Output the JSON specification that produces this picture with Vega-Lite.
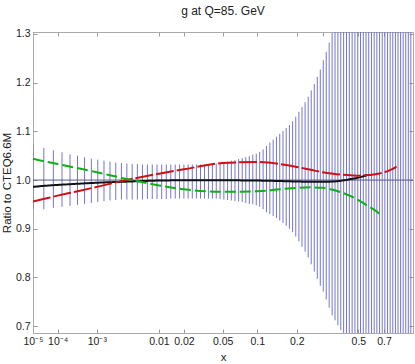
{
  "$schema": "https://vega.github.io/schema/vega-lite/v6.json",
  "width": 380,
  "height": 301,
  "autosize": "none",
  "padding": {"left": 33, "top": 32, "right": 2, "bottom": 31},
  "title": {"text": "g at Q=85. GeV", "font": "Liberation Sans", "fontSize": 12, "fontWeight": "normal", "color": "#222", "offset": 11},
  "config": {
    "view": {"stroke": "#aaaaaa"},
    "axis": {"labelFont": "Liberation Sans", "labelFontSize": 10.5, "labelColor": "#222", "titleFont": "Liberation Sans", "titleFontSize": 11.5, "titleFontWeight": "normal", "titleColor": "#222", "domainColor": "#aaaaaa", "tickColor": "#999999", "grid": false}
  },
  "datasets": {
    "band": [
      {"x": 0.00001, "lo": 0.940, "hi": 1.073},
      {"x": 0.0000313, "lo": 0.940, "hi": 1.066},
      {"x": 0.0000715, "lo": 0.943, "hi": 1.061},
      {"x": 0.0001366, "lo": 0.945, "hi": 1.057},
      {"x": 0.0002326, "lo": 0.947, "hi": 1.053},
      {"x": 0.0003655, "lo": 0.949, "hi": 1.050},
      {"x": 0.000541, "lo": 0.951, "hi": 1.047},
      {"x": 0.000766, "lo": 0.953, "hi": 1.044},
      {"x": 0.001046, "lo": 0.955, "hi": 1.042},
      {"x": 0.001386, "lo": 0.957, "hi": 1.040},
      {"x": 0.001794, "lo": 0.958, "hi": 1.038},
      {"x": 0.002274, "lo": 0.959, "hi": 1.036},
      {"x": 0.002833, "lo": 0.960, "hi": 1.035},
      {"x": 0.003477, "lo": 0.960, "hi": 1.034},
      {"x": 0.004212, "lo": 0.960, "hi": 1.033},
      {"x": 0.005044, "lo": 0.960, "hi": 1.033},
      {"x": 0.005979, "lo": 0.960, "hi": 1.032},
      {"x": 0.007023, "lo": 0.961, "hi": 1.032},
      {"x": 0.008181, "lo": 0.961, "hi": 1.032},
      {"x": 0.009461, "lo": 0.961, "hi": 1.032},
      {"x": 0.010867, "lo": 0.961, "hi": 1.032},
      {"x": 0.012407, "lo": 0.961, "hi": 1.032},
      {"x": 0.014085, "lo": 0.962, "hi": 1.032},
      {"x": 0.015908, "lo": 0.962, "hi": 1.032},
      {"x": 0.017882, "lo": 0.962, "hi": 1.032},
      {"x": 0.020013, "lo": 0.962, "hi": 1.032},
      {"x": 0.022307, "lo": 0.962, "hi": 1.032},
      {"x": 0.02477, "lo": 0.962, "hi": 1.032},
      {"x": 0.027407, "lo": 0.962, "hi": 1.032},
      {"x": 0.030226, "lo": 0.962, "hi": 1.032},
      {"x": 0.033231, "lo": 0.962, "hi": 1.032},
      {"x": 0.03643, "lo": 0.962, "hi": 1.033},
      {"x": 0.039827, "lo": 0.962, "hi": 1.033},
      {"x": 0.043429, "lo": 0.962, "hi": 1.034},
      {"x": 0.047242, "lo": 0.961, "hi": 1.035},
      {"x": 0.051272, "lo": 0.960, "hi": 1.037},
      {"x": 0.055525, "lo": 0.959, "hi": 1.038},
      {"x": 0.060007, "lo": 0.958, "hi": 1.040},
      {"x": 0.064723, "lo": 0.957, "hi": 1.041},
      {"x": 0.069681, "lo": 0.956, "hi": 1.043},
      {"x": 0.074885, "lo": 0.955, "hi": 1.045},
      {"x": 0.080342, "lo": 0.953, "hi": 1.047},
      {"x": 0.086058, "lo": 0.951, "hi": 1.049},
      {"x": 0.092039, "lo": 0.950, "hi": 1.052},
      {"x": 0.098291, "lo": 0.948, "hi": 1.054},
      {"x": 0.10482, "lo": 0.945, "hi": 1.058},
      {"x": 0.11163, "lo": 0.940, "hi": 1.063},
      {"x": 0.11874, "lo": 0.934, "hi": 1.070},
      {"x": 0.12613, "lo": 0.930, "hi": 1.077},
      {"x": 0.13383, "lo": 0.926, "hi": 1.083},
      {"x": 0.14183, "lo": 0.922, "hi": 1.089},
      {"x": 0.15014, "lo": 0.917, "hi": 1.095},
      {"x": 0.15878, "lo": 0.912, "hi": 1.101},
      {"x": 0.16774, "lo": 0.906, "hi": 1.107},
      {"x": 0.17703, "lo": 0.900, "hi": 1.113},
      {"x": 0.18666, "lo": 0.893, "hi": 1.121},
      {"x": 0.19663, "lo": 0.884, "hi": 1.130},
      {"x": 0.20696, "lo": 0.874, "hi": 1.140},
      {"x": 0.21763, "lo": 0.863, "hi": 1.150},
      {"x": 0.22867, "lo": 0.853, "hi": 1.160},
      {"x": 0.24007, "lo": 0.841, "hi": 1.171},
      {"x": 0.25184, "lo": 0.827, "hi": 1.184},
      {"x": 0.26399, "lo": 0.812, "hi": 1.197},
      {"x": 0.27653, "lo": 0.797, "hi": 1.212},
      {"x": 0.28947, "lo": 0.783, "hi": 1.227},
      {"x": 0.3028, "lo": 0.771, "hi": 1.246},
      {"x": 0.31653, "lo": 0.755, "hi": 1.263},
      {"x": 0.33067, "lo": 0.738, "hi": 1.282},
      {"x": 0.34522, "lo": 0.722, "hi": 1.302},
      {"x": 0.36019, "lo": 0.712, "hi": 1.325},
      {"x": 0.37559, "lo": 0.702, "hi": 1.35},
      {"x": 0.39142, "lo": 0.692, "hi": 1.38},
      {"x": 0.40768, "lo": 0.683, "hi": 1.41},
      {"x": 0.42441, "lo": 0.67, "hi": 1.44},
      {"x": 0.44157, "lo": 0.655, "hi": 1.47},
      {"x": 0.45921, "lo": 0.64, "hi": 1.50},
      {"x": 0.47729, "lo": 0.62, "hi": 1.53},
      {"x": 0.49585, "lo": 0.60, "hi": 1.56},
      {"x": 0.51489, "lo": 0.58, "hi": 1.60},
      {"x": 0.5344, "lo": 0.56, "hi": 1.64},
      {"x": 0.5544, "lo": 0.54, "hi": 1.68},
      {"x": 0.57489, "lo": 0.52, "hi": 1.72},
      {"x": 0.59589, "lo": 0.50, "hi": 1.76},
      {"x": 0.61738, "lo": 0.48, "hi": 1.80},
      {"x": 0.63939, "lo": 0.46, "hi": 1.85},
      {"x": 0.66191, "lo": 0.44, "hi": 1.90},
      {"x": 0.68497, "lo": 0.42, "hi": 1.95},
      {"x": 0.70853, "lo": 0.40, "hi": 2.0},
      {"x": 0.73266, "lo": 0.38, "hi": 2.05},
      {"x": 0.75731, "lo": 0.36, "hi": 2.1},
      {"x": 0.7825, "lo": 0.34, "hi": 2.15},
      {"x": 0.80825, "lo": 0.32, "hi": 2.2},
      {"x": 0.83455, "lo": 0.30, "hi": 2.25},
      {"x": 0.86145, "lo": 0.28, "hi": 2.3},
      {"x": 0.88889, "lo": 0.26, "hi": 2.35},
      {"x": 0.91693, "lo": 0.24, "hi": 2.4},
      {"x": 0.94555, "lo": 0.22, "hi": 2.45},
      {"x": 0.97473, "lo": 0.20, "hi": 2.5}
    ],
    "ref": [{"ratio": 1.0}],
    "curves": [
      {"curve": "black", "x": 0.00001, "ratio": 0.986},
      {"curve": "black", "x": 0.00003, "ratio": 0.988},
      {"curve": "black", "x": 0.0001, "ratio": 0.990},
      {"curve": "black", "x": 0.0003, "ratio": 0.992},
      {"curve": "black", "x": 0.001, "ratio": 0.9945},
      {"curve": "black", "x": 0.003, "ratio": 0.9965},
      {"curve": "black", "x": 0.01, "ratio": 0.999},
      {"curve": "black", "x": 0.02, "ratio": 0.9995},
      {"curve": "black", "x": 0.05, "ratio": 0.9995},
      {"curve": "black", "x": 0.1, "ratio": 0.999},
      {"curve": "black", "x": 0.15, "ratio": 0.998},
      {"curve": "black", "x": 0.2, "ratio": 0.997},
      {"curve": "black", "x": 0.25, "ratio": 0.9965},
      {"curve": "black", "x": 0.3, "ratio": 0.9965},
      {"curve": "black", "x": 0.35, "ratio": 0.997},
      {"curve": "black", "x": 0.4, "ratio": 0.999},
      {"curve": "black", "x": 0.45, "ratio": 1.002},
      {"curve": "black", "x": 0.5, "ratio": 1.005},
      {"curve": "black", "x": 0.56, "ratio": 1.010},
      {"curve": "red", "x": 0.00001, "ratio": 0.956},
      {"curve": "red", "x": 0.00003, "ratio": 0.961},
      {"curve": "red", "x": 0.0001, "ratio": 0.968},
      {"curve": "red", "x": 0.0003, "ratio": 0.9755},
      {"curve": "red", "x": 0.001, "ratio": 0.986},
      {"curve": "red", "x": 0.003, "ratio": 0.9985},
      {"curve": "red", "x": 0.01, "ratio": 1.013},
      {"curve": "red", "x": 0.02, "ratio": 1.022},
      {"curve": "red", "x": 0.05, "ratio": 1.035},
      {"curve": "red", "x": 0.1, "ratio": 1.037},
      {"curve": "red", "x": 0.15, "ratio": 1.033},
      {"curve": "red", "x": 0.2, "ratio": 1.027},
      {"curve": "red", "x": 0.25, "ratio": 1.021},
      {"curve": "red", "x": 0.3, "ratio": 1.016},
      {"curve": "red", "x": 0.35, "ratio": 1.013},
      {"curve": "red", "x": 0.4, "ratio": 1.011},
      {"curve": "red", "x": 0.45, "ratio": 1.010},
      {"curve": "red", "x": 0.5, "ratio": 1.009},
      {"curve": "red", "x": 0.55, "ratio": 1.010},
      {"curve": "red", "x": 0.6, "ratio": 1.011},
      {"curve": "red", "x": 0.65, "ratio": 1.013},
      {"curve": "red", "x": 0.7, "ratio": 1.016},
      {"curve": "red", "x": 0.75, "ratio": 1.020},
      {"curve": "red", "x": 0.8, "ratio": 1.025},
      {"curve": "red", "x": 0.82, "ratio": 1.028},
      {"curve": "green", "x": 0.00001, "ratio": 1.044},
      {"curve": "green", "x": 0.00003, "ratio": 1.039},
      {"curve": "green", "x": 0.0001, "ratio": 1.033},
      {"curve": "green", "x": 0.0003, "ratio": 1.026},
      {"curve": "green", "x": 0.001, "ratio": 1.016},
      {"curve": "green", "x": 0.003, "ratio": 1.004},
      {"curve": "green", "x": 0.01, "ratio": 0.989},
      {"curve": "green", "x": 0.02, "ratio": 0.981},
      {"curve": "green", "x": 0.05, "ratio": 0.976},
      {"curve": "green", "x": 0.1, "ratio": 0.977},
      {"curve": "green", "x": 0.15, "ratio": 0.981},
      {"curve": "green", "x": 0.2, "ratio": 0.984},
      {"curve": "green", "x": 0.25, "ratio": 0.985},
      {"curve": "green", "x": 0.3, "ratio": 0.984},
      {"curve": "green", "x": 0.35, "ratio": 0.980},
      {"curve": "green", "x": 0.4, "ratio": 0.974},
      {"curve": "green", "x": 0.45, "ratio": 0.967},
      {"curve": "green", "x": 0.5, "ratio": 0.959},
      {"curve": "green", "x": 0.55, "ratio": 0.950},
      {"curve": "green", "x": 0.6, "ratio": 0.942},
      {"curve": "green", "x": 0.65, "ratio": 0.933},
      {"curve": "green", "x": 0.68, "ratio": 0.926}
    ]
  },
  "resolve": {"axis": {"x": "independent", "y": "independent"}},
  "layer": [
    {
      "data": {"name": "band"},
      "mark": {"type": "rule", "clip": true, "color": "#7575d0", "strokeWidth": 1},
      "encoding": {
        "x": {"field": "x", "type": "quantitative",
              "scale": {"type": "pow", "exponent": 0.2, "domain": [0.00001, 1], "nice": false, "zero": false},
              "axis": {"orient": "bottom", "title": "x", "values": [0.00001, 0.0001, 0.001, 0.01, 0.02, 0.05, 0.1, 0.2, 0.5, 0.7],
                       "labelExpr": "datum.value < 0.00005 ? '10⁻⁵' : datum.value < 0.0005 ? '10⁻⁴' : datum.value < 0.005 ? '10⁻³' : format(datum.value, '~g')",
                       "labelFlush": false, "labelOverlap": false, "tickSize": -4, "labelPadding": 7, "titlePadding": 5}},
        "y": {"field": "lo", "type": "quantitative",
              "scale": {"domain": [0.686, 1.304], "nice": false, "zero": false},
              "axis": {"orient": "left", "title": "Ratio to CTEQ6.6M", "values": [0.7, 0.8, 0.9, 1.0, 1.1, 1.2, 1.3], "format": ".1f",
                       "labelFlush": false, "labelOverlap": false, "tickSize": -4, "labelPadding": 7, "titlePadding": 3}},
        "y2": {"field": "hi"}
      }
    },
    {
      "data": {"name": "ref"},
      "mark": {"type": "rule", "color": "#5a5a88", "strokeWidth": 1},
      "encoding": {
        "y": {"field": "ratio", "type": "quantitative", "axis": null}
      }
    },
    {
      "data": {"name": "curves"},
      "mark": {"type": "line", "strokeWidth": 2, "interpolate": "monotone", "clip": true},
      "encoding": {
        "x": {"field": "x", "type": "quantitative",
              "axis": {"orient": "top", "title": null, "labels": false, "values": [0.00001, 0.0001, 0.001, 0.01, 0.02, 0.05, 0.1, 0.2, 0.3, 0.5, 0.7], "tickSize": -4}},
        "y": {"field": "ratio", "type": "quantitative",
              "axis": {"orient": "right", "title": null, "labels": false, "values": [0.7, 0.8, 0.9, 1.0, 1.1, 1.2, 1.3], "tickSize": -4}},
        "color": {"field": "curve", "type": "nominal", "legend": null,
                  "scale": {"domain": ["black", "red", "green"], "range": ["#111111", "#d01010", "#10b010"]}},
        "strokeDash": {"field": "curve", "type": "nominal", "legend": null,
                       "scale": {"domain": ["black", "red", "green"], "range": [[1, 0], [18, 3], [11, 4]]}}
      }
    }
  ]
}
